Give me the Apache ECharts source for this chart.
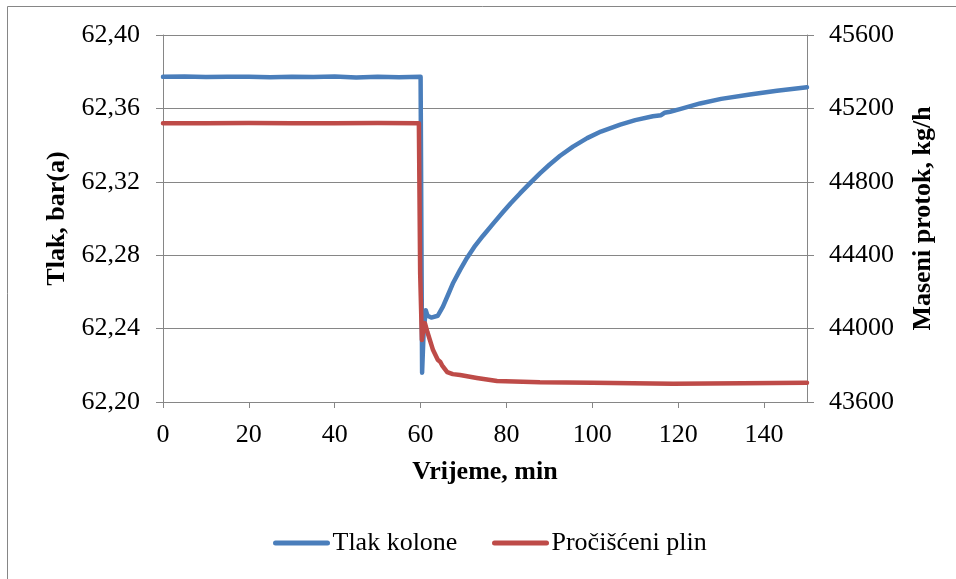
<!DOCTYPE html>
<html>
<head>
<meta charset="utf-8">
<script src="https://cdn.jsdelivr.net/npm/echarts@6/dist/echarts.min.js"></script>
<style>
  html, body { margin: 0; padding: 0; background: #fff; }
  #chart { width: 956px; height: 579px; }
</style>
</head>
<body>
<div id="chart"></div>
<script>
// tlak kolone, bar(a) - [min, vrijednost]
const tlakKolone = [
  [0, 62.3772], [5, 62.3774], [10, 62.3771], [15, 62.3773], [20, 62.3772],
  [25, 62.3770], [30, 62.3773], [35, 62.3771], [40, 62.3774], [45, 62.3769],
  [50, 62.3772], [55, 62.3770], [60.0, 62.3772], [60.35, 62.216], [60.7, 62.238],
  [61.2, 62.250], [61.6, 62.247], [62.5, 62.246], [64.0, 62.247], [65.2, 62.252],
  [66.5, 62.259], [67.6, 62.265], [69.2, 62.272], [70.8, 62.2785], [72.5, 62.2845],
  [74.5, 62.2905], [77, 62.2975], [79.2, 62.3035], [81, 62.3083], [83.2, 62.3138],
  [85.5, 62.3193], [87.8, 62.3246], [90, 62.3293], [92.5, 62.3342], [95.5, 62.3392],
  [98.8, 62.3438], [102, 62.3474], [106.5, 62.3512], [110, 62.3536], [114.1, 62.3557],
  [116, 62.3563], [116.8, 62.3576], [118.1, 62.3582], [120.4, 62.3596], [125.1, 62.3627],
  [130, 62.3652], [136.7, 62.3676], [143, 62.3696], [150, 62.3715]
];

// pročišćeni plin, kg/h - [min, vrijednost]
const procisceniPlin = [
  [0, 45119], [10, 45119], [20, 45120], [30, 45119], [40, 45119], [50, 45120],
  [59.6, 45119], [59.9, 44300], [60.3, 43938], [60.6, 43990], [61.0, 44030],
  [61.6, 43980], [62.9, 43883], [64.0, 43830], [64.6, 43818], [65.0, 43800],
  [66.2, 43763], [67.5, 43752], [69.2, 43747], [73.1, 43731], [77.8, 43714],
  [87.8, 43707], [100, 43705], [118.8, 43700], [135, 43702], [150, 43705]
];

const serijeImena = ['Tlak kolone', 'Pročišćeni plin'];
const boje = ['#4A7EBB', '#BE4B48'];

const font = 'Liberation Serif';
const sivo = '#868686';

// legenda crtana rucno (serifni font)
function legendaStavka(x, ime, boja) {
  return {
    type: 'group',
    left: x,
    top: 530,
    children: [
      {
        type: 'line',
        shape: { x1: 2, y1: 15, x2: 54, y2: 15 },
        style: { stroke: boja, lineWidth: 5, lineCap: 'round' }
      },
      {
        type: 'text',
        x: 59,
        y: 15,
        style: {
          text: ime,
          fontFamily: font,
          fontSize: 26,
          fill: '#000',
          verticalAlign: 'middle'
        }
      }
    ]
  };
}

var myChart = echarts.init(document.getElementById('chart'));
myChart.setOption({
  animation: false,
  backgroundColor: '#fff',
  textStyle: { fontFamily: font, color: '#000' },
  graphic: [
    {
      type: 'rect',
      shape: { x: 7.5, y: 6.5, width: 1000, height: 1000 },
      style: { fill: 'none', stroke: sivo, lineWidth: 1 },
      silent: true
    },
    legendaStavka(273, serijeImena[0], boje[0]),
    legendaStavka(492, serijeImena[1], boje[1])
  ],
  grid: { left: 163, top: 35, right: 149, bottom: 177 },
  xAxis: {
    type: 'value',
    min: 0,
    max: 150,
    interval: 20,
    name: 'Vrijeme, min',
    nameLocation: 'middle',
    nameGap: 57,
    nameTextStyle: { fontFamily: font, fontSize: 26, fontWeight: 'bold', color: '#000' },
    axisLine: { lineStyle: { color: sivo, width: 1 } },
    axisTick: { show: true, length: 6, lineStyle: { color: sivo } },
    axisLabel: { showMaxLabel: false, margin: 20, fontFamily: font, fontSize: 26, color: '#000' },
    splitLine: { show: false }
  },
  yAxis: [
    {
      type: 'value',
      min: 62.2,
      max: 62.4,
      interval: 0.04,
      name: 'Tlak, bar(a)',
      nameLocation: 'middle',
      nameGap: 92,
      nameTextStyle: { fontFamily: font, fontSize: 26, fontWeight: 'bold', color: '#000' },
      axisLine: { show: true, lineStyle: { color: sivo, width: 1 } },
      axisTick: { show: true, length: 7, lineStyle: { color: sivo } },
      axisLabel: {
        margin: 23,
        fontFamily: font,
        fontSize: 26,
        color: '#000',
        formatter: v => v.toFixed(2).replace('.', ',')
      },
      splitLine: { show: true, lineStyle: { color: sivo, width: 1 } }
    },
    {
      type: 'value',
      min: 43600,
      max: 45600,
      interval: 400,
      name: 'Maseni protok, kg/h',
      nameLocation: 'middle',
      nameGap: 103,
      nameTextStyle: { fontFamily: font, fontSize: 26, fontWeight: 'bold', color: '#000' },
      axisLine: { show: true, lineStyle: { color: sivo, width: 1 } },
      axisTick: { show: true, length: 7, lineStyle: { color: sivo } },
      axisLabel: {
        margin: 22,
        fontFamily: font,
        fontSize: 26,
        color: '#000',
        formatter: v => String(Math.round(v))
      },
      splitLine: { show: false }
    }
  ],
  series: [
    {
      name: serijeImena[0],
      type: 'line',
      yAxisIndex: 0,
      data: tlakKolone,
      symbol: 'none',
      lineStyle: { color: boje[0], width: 4.5, cap: 'round', join: 'round' },
      itemStyle: { color: boje[0] },
      z: 3
    },
    {
      name: serijeImena[1],
      type: 'line',
      yAxisIndex: 1,
      data: procisceniPlin,
      symbol: 'none',
      lineStyle: { color: boje[1], width: 4.5, cap: 'round', join: 'round' },
      itemStyle: { color: boje[1] },
      z: 4
    }
  ]
});
</script>
</body>
</html>
